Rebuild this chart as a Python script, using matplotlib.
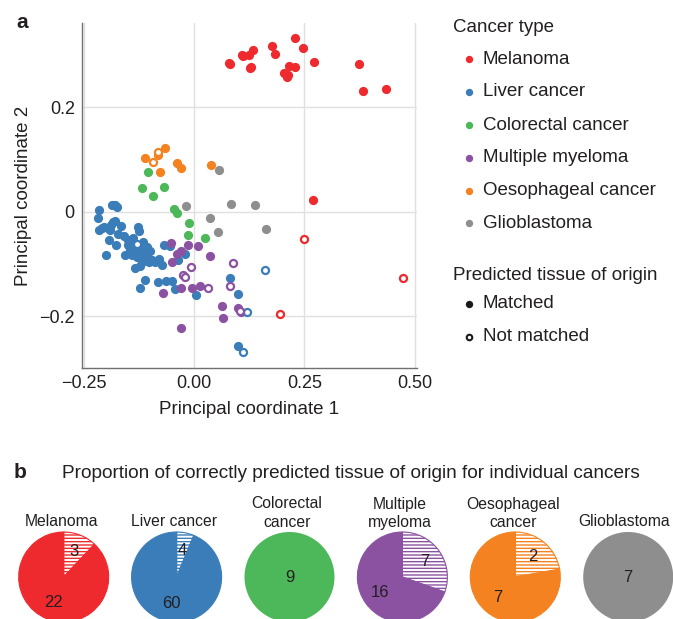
import numpy as np
import matplotlib
matplotlib.use("Agg")
import matplotlib.pyplot as plt

plt.rcParams['font.family'] = ['Liberation Sans', 'DejaVu Sans']
plt.rcParams['hatch.linewidth'] = 1.0

# cancer types and colours
cancer_types = ['Melanoma', 'Liver cancer', 'Colorectal cancer',
                'Multiple myeloma', 'Oesophageal cancer', 'Glioblastoma']
colors = ['#ee2a2e', '#3a7db8', '#4db85a', '#8b52a1', '#f58220', '#8e8e8e']

# principal coordinates, matched (filled) and not matched (hollow)
mel_x = [0.079, 0.081, 0.108, 0.124, 0.134, 0.126, 0.128, 0.177, 0.183, 0.229, 0.246,
         0.215, 0.228, 0.204, 0.211, 0.213, 0.272, 0.373, 0.383, 0.434, 0.270, 0.110]
mel_y = [0.286, 0.283, 0.301, 0.301, 0.310, 0.276, 0.278, 0.318, 0.302, 0.333, 0.315,
         0.279, 0.277, 0.267, 0.259, 0.263, 0.287, 0.283, 0.231, 0.235, 0.022, 0.298]
mel_nx = [0.248, 0.474, 0.194]
mel_ny = [-0.053, -0.126, -0.196]

liv_x = [-0.186, -0.175, -0.179, -0.216, -0.219, -0.216, -0.204, -0.195, -0.188, -0.184,
         -0.179, -0.190, -0.173, -0.158, -0.194, -0.177, -0.200, -0.128, -0.126, -0.139,
         -0.151, -0.133, -0.117, -0.107, -0.145, -0.122, -0.156, -0.141, -0.130, -0.112,
         -0.103, -0.096, -0.079, -0.073, -0.135, -0.112, -0.122, -0.081, -0.064, -0.050,
         -0.044, -0.069, -0.055, -0.021, -0.036, 0.004, 0.081, 0.099, 0.100, -0.118,
         -0.127, -0.109, -0.150, -0.166, -0.209, -0.100, -0.136, -0.123, -0.089, -0.116]
liv_y = [0.014, 0.010, 0.013, 0.003, -0.012, -0.034, -0.029, -0.031, -0.026, -0.020,
         -0.018, -0.035, -0.043, -0.046, -0.054, -0.064, -0.082, -0.030, -0.037, -0.050,
         -0.064, -0.061, -0.058, -0.067, -0.073, -0.073, -0.083, -0.083, -0.086, -0.082,
         -0.096, -0.093, -0.091, -0.101, -0.107, -0.131, -0.147, -0.134, -0.133, -0.133,
         -0.148, -0.064, -0.066, -0.081, -0.093, -0.160, -0.127, -0.157, -0.257, -0.096,
         -0.073, -0.087, -0.054, -0.027, -0.031, -0.075, -0.077, -0.104, -0.096, -0.068]
liv_nx = [0.161, 0.120, 0.111, -0.130]
liv_ny = [-0.112, -0.192, -0.268, -0.062]

col_x = [-0.105, -0.118, -0.068, -0.093, -0.045, -0.039, -0.012, -0.013, 0.024]
col_y = [0.076, 0.046, 0.047, 0.031, 0.005, -0.002, -0.022, -0.044, -0.050]

mm_x = [-0.053, -0.015, 0.009, -0.029, -0.040, 0.036, -0.051, -0.071, -0.030, -0.006,
        0.013, 0.064, 0.100, 0.107, 0.066, -0.030]
mm_y = [-0.059, -0.064, -0.066, -0.075, -0.081, -0.084, -0.097, -0.155, -0.146, -0.146,
        -0.142, -0.181, -0.185, -0.192, -0.204, -0.222]
mm_nx = [0.087, -0.007, -0.025, -0.020, 0.032, 0.081, 0.104]
mm_ny = [-0.098, -0.106, -0.121, -0.125, -0.146, -0.143, -0.190]

oes_x = [-0.067, -0.081, -0.112, -0.040, -0.031, -0.078, 0.038]
oes_y = [0.123, 0.109, 0.103, 0.093, 0.084, 0.076, 0.089]
oes_nx = [-0.094, -0.082]
oes_ny = [0.095, 0.115]

gli_x = [0.057, -0.018, 0.084, 0.137, 0.036, 0.053, 0.162]
gli_y = [0.080, 0.011, 0.015, 0.013, -0.011, -0.038, -0.033]

matched = [(mel_x, mel_y), (liv_x, liv_y), (col_x, col_y),
           (mm_x, mm_y), (oes_x, oes_y), (gli_x, gli_y)]
not_matched = [(mel_nx, mel_ny), (liv_nx, liv_ny), ([], []),
               (mm_nx, mm_ny), (oes_nx, oes_ny), ([], [])]

# counts for the pies
n_matched = [22, 60, 9, 16, 7, 7]
n_not_matched = [3, 4, 0, 7, 2, 0]
pie_titles = ['Melanoma', 'Liver cancer', 'Colorectal\ncancer',
              'Multiple\nmyeloma', 'Oesophageal\ncancer', 'Glioblastoma']

W, H = 673, 619
txt = '#231f20'
fig = plt.figure(figsize=(W / 100, H / 100), dpi=100)

# panel a: scatter
ax = fig.add_axes([81.7 / W, 1 - 368.3 / H, 335.3 / W, 345.3 / H])
for (x, y), c in zip(matched, colors):
    ax.scatter(x, y, s=44, color=c, linewidths=0, zorder=3)
for (x, y), c in zip(not_matched, colors):
    if len(x):
        ax.scatter(x, y, s=26, facecolors='white', edgecolors=c, linewidths=1.6, zorder=4)

ax.set_xlim(-0.255, 0.505)
ax.set_ylim(-0.300, 0.362)
ax.set_xticks([-0.25, 0, 0.25, 0.5])
ax.set_xticklabels(['\u22120.25', '0.00', '0.25', '0.50'])
ax.set_yticks([-0.2, 0, 0.2])
ax.set_yticklabels(['\u22120.2', '0', '0.2'])
ax.tick_params(length=0, labelsize=13, labelcolor=txt, pad=5)
ax.grid(color='#e0e0e0', linewidth=1.0)
ax.set_axisbelow(True)
for s in ['top', 'right']:
    ax.spines[s].set_visible(False)
for s in ['left', 'bottom']:
    ax.spines[s].set_color('#707070')
    ax.spines[s].set_linewidth(1.0)
ax.set_xlabel('Principal coordinate 1', fontsize=13.5, color=txt, labelpad=6)
ax.set_ylabel('Principal coordinate 2', fontsize=13.5, color=txt, labelpad=5)

# overlay in pixel units for legend and panel texts
lax = fig.add_axes([0, 0, 1, 1])
lax.set_xlim(0, W)
lax.set_ylim(H, 0)
lax.axis('off')

lax.text(22, 22, 'a', fontsize=15, fontweight='bold', ha='center', va='center', color=txt)
lax.text(453, 28, 'Cancer type', fontsize=13.5, va='center', color=txt)
rows = [59.3, 91.7, 125, 157.7, 190.7, 223.3]
for yy, name, c in zip(rows, cancer_types, colors):
    lax.scatter([469], [yy], s=28, color=c, linewidths=0)
    lax.text(483, yy, name, fontsize=13.5, va='center', color=txt)
lax.text(453, 275, 'Predicted tissue of origin', fontsize=13.5, va='center', color=txt)
lax.scatter([469], [304], s=28, color='#1a1a1a', linewidths=0)
lax.text(483, 304, 'Matched', fontsize=13.5, va='center', color=txt)
lax.scatter([469], [336.7], s=16, facecolors='white', edgecolors='#1a1a1a', linewidths=1.5)
lax.text(483, 336.7, 'Not matched', fontsize=13.5, va='center', color=txt)

# panel b: pies
lax.text(20, 473, 'b', fontsize=15, fontweight='bold', ha='center', va='center', color=txt)
lax.text(62, 473, 'Proportion of correctly predicted tissue of origin for individual cancers',
         fontsize=13.7, va='center', color=txt)

r = 45
cy = 577
for i in range(6):
    cx = 63.7 + i * 112.9
    pax = fig.add_axes([(cx - r) / W, 1 - (cy + r) / H, 2 * r / W, 2 * r / H])
    c = colors[i]
    nm, nn = n_matched[i], n_not_matched[i]
    if nn > 0:
        total = nm + nn
        wedges, _, autotexts = pax.pie(
            [nn, nm], startangle=90, counterclock=False,
            autopct=lambda p, t=total: f'{round(p * t / 100)}', pctdistance=0.6,
            wedgeprops=dict(linewidth=0.8, edgecolor=c),
            textprops=dict(fontsize=12, color=txt))
        wedges[0].set_facecolor('white')
        wedges[0].set_hatch('-----')
        wedges[1].set_facecolor(c)
    else:
        pax.pie([nm], startangle=90, colors=[c], wedgeprops=dict(linewidth=0))
        pax.text(0, 0, str(nm), ha='center', va='center', fontsize=12, color=txt)
    pax.set_xlim(-1, 1)
    pax.set_ylim(-1, 1)
    lines = pie_titles[i].split('\n')
    tx = min(cx - 2.5, 624)
    if len(lines) == 1:
        lax.text(tx, 521.7, lines[0], ha='center', va='center', fontsize=11.3, color=txt)
    else:
        lax.text(tx, 504, lines[0], ha='center', va='center', fontsize=11.3, color=txt)
        lax.text(tx, 522.5, lines[1], ha='center', va='center', fontsize=11.3, color=txt)

fig.savefig('out.png', dpi=100)
